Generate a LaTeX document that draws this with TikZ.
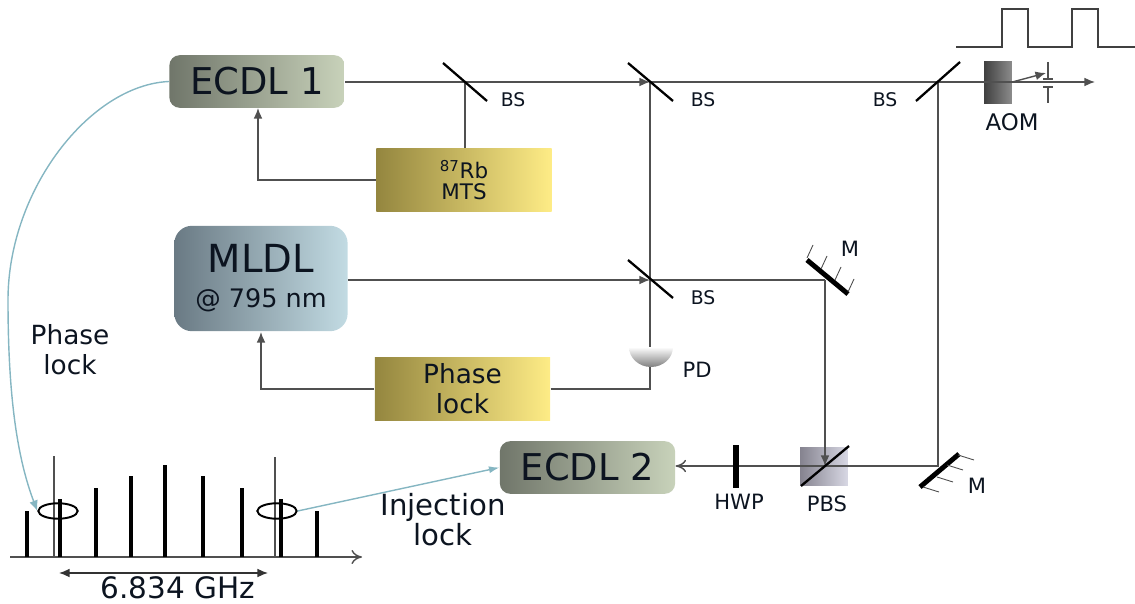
\documentclass[tikz,border=0pt]{standalone}
\usepackage{fontspec}
\setmainfont{DejaVu Sans}
\usepackage{xcolor}
\usetikzlibrary{shapes,arrows,positioning,calc,arrows.meta}
\definecolor{beamgray}{HTML}{505050}
\definecolor{locklink}{HTML}{85B6C2}
\definecolor{textdark}{HTML}{0C1420}
\definecolor{ecdlleft}{HTML}{70766A}
\definecolor{ecdlright}{HTML}{C8D2BA}
\definecolor{mldlleft}{HTML}{6A7A84}
\definecolor{mldlright}{HTML}{C2DBE3}
\definecolor{ctrlleft}{HTML}{94863F}
\definecolor{ctrlright}{HTML}{FEEC86}
\definecolor{pbsleft}{HTML}{85838F}
\definecolor{pbsright}{HTML}{D8D8E4}
\tikzset{
    laser/.style={rounded corners=6pt,inner sep=0pt,text=textdark},
    ecdl/.style={laser,minimum width=99.8pt,minimum height=30pt,left color=ecdlleft,right color=ecdlright,font=\fontsize{21}{23}\selectfont},
    ctrl/.style={inner sep=0pt,minimum width=99.8pt,minimum height=36pt,left color=ctrlleft,right color=ctrlright,text=textdark,align=center},
    lbl/.style={inner sep=0pt,text=textdark,font=\fontsize{10.7}{12}\selectfont},
    lblb/.style={inner sep=0pt,text=textdark,font=\fontsize{12}{14}\selectfont},
    bigl/.style={inner sep=0pt,text=textdark,align=center,font=\fontsize{15}{17}\selectfont},
    beam/.style={beamgray,line width=0.8pt},
    tip/.style={-{Latex[length=6pt,width=5pt]}},
    splitter/.style={black,line width=1.3pt},
    tooth/.style={black,line width=2.5pt},
    hatch/.style={black!70,line width=0.5pt},
    mirrorbar/.style={black,line width=2.8pt},
}
\begin{document}
\begin{tikzpicture}[x=0.02cm,y=-0.02cm]
    \useasboundingbox (0,0) rectangle (1135,604);
    % Lasers and control boxes
    \node[ecdl] (E1) at (257,81.5) {ECDL 1};
    \node[ecdl] (E2) at (587.5,467.5) {ECDL 2};
    \node[laser,minimum width=98.6pt,minimum height=60pt,left color=mldlleft,right color=mldlright,align=center,
        rounded corners=10pt,font=\fontsize{14.5}{20}\selectfont] (L) at (261,278.5)
        {\fontsize{22}{20}\selectfont MLDL\\@ 795 nm};
    \node[ctrl,font=\fontsize{12.2}{12}\selectfont] (MTS) at (464,180) {\textsuperscript{87}Rb\\MTS};
    \node[ctrl,minimum height=36.3pt,font=\fontsize{15}{17}\selectfont] (PL) at (462.5,389) {Phase\\lock};
    % Points on the beams
    \coordinate (BSa) at (465,82);
    \coordinate (BSb) at (650,82);
    \coordinate (BSc) at (938,82);
    \coordinate (BSd) at (650,280);
    \coordinate (Ma) at (825,280);
    \coordinate (Mb) at (938,466);
    \coordinate (PBSc) at (825,466);
    \coordinate (Out) at (1095,82);
    \coordinate (Defl) at (1046,73);
    % AOM, PBS and detector bodies
    \node[minimum width=15.9pt,minimum height=24.4pt,inner sep=0pt,left color=black!75,right color=black!45] (AOM) at (998,82.5) {};
    \node[minimum width=27.2pt,minimum height=22.1pt,inner sep=0pt,left color=pbsleft,right color=pbsright] (PBS) at (824,466.5) {};
    \shade[top color=white,bottom color=black!50] (629,347) arc[start angle=180,end angle=0,x radius=22,y radius=20] -- cycle;
    \coordinate (PDtop) at (650,347);
    \coordinate (PDbot) at (650,367);
    % Beams
    \draw[beam,tip] (E1.east |- BSa) -- (BSb);
    \draw[beam] (BSb) -- (BSc);
    \draw[beam,tip] (BSc) -- (Out);
    \draw[beam,tip] (AOM.east |- BSc) -- (Defl);
    \draw[beam] (BSb) -- (PDtop);
    \draw[beam,tip] (L.east |- BSd) -- (BSd);
    \draw[beam] (BSd) -- (Ma);
    \draw[beam] (BSc) -- (Mb) -- (PBSc);
    \draw[beam,->,>={To[length=6pt,width=7pt]}] (PBSc) -- (E2.east |- PBSc);
    \draw[beam,tip] (Ma) -- (PBSc);
    \draw[beam] (MTS.north -| BSa) -- (BSa);
    \draw[beam,tip] (MTS.west) -| (258,108);
    \draw[beam,tip] (PL.west) -| (261,332);
    \draw[beam] (PL.east) -| (PDbot);
    % Beam splitters
    \draw[splitter] ($(BSa)+(-22,-19)$) -- ($(BSa)+(22,19)$);
    \draw[splitter] ($(BSb)+(-22,-19)$) -- ($(BSb)+(23,19)$);
    \draw[splitter] ($(BSc)+(-22,19)$) -- ($(BSc)+(22,-20)$);
    \draw[splitter] ($(BSd)+(-22,-20)$) -- ($(BSd)+(23,18)$);
    \draw[splitter] ($(PBSc)+(-24,20)$) -- ($(PBSc)+(24,-20)$);
    % Half wave plate
    \draw[black,line width=3.4pt] (736,445) -- (736,488);
    % Mirrors
    \draw[mirrorbar] (807,260) -- (848,294);
    \foreach \x/\y in {807/258,821/269,835/280,848/292}
        \draw[hatch] (\x,\y) -- ++(6,-13);
    \draw[mirrorbar] (920,487) -- (959,454);
    \foreach \x/\y in {923/487,937/477,947/465,958/455}
        \draw[hatch] (\x,\y) -- ++(16,5);
    % Aperture after the AOM
    \draw[beamgray,line width=0.8pt] (1048,62) -- (1048,79) (1043,79) -- (1053,79);
    \draw[beamgray,line width=0.8pt] (1048,103) -- (1048,87) (1043,87) -- (1053,87);
    % Pulse train
    \draw[black!75,line width=0.8pt] (956,47) -- (1002,47) -- (1002,9) -- (1028,9) -- (1028,47) -- (1072,47) -- (1072,9) -- (1098,9) -- (1098,47) -- (1135,47);
    % Comb
    \draw[beamgray,line width=0.8pt,->,>={To[length=6pt,width=8pt]}] (10,557) -- (362,557);
    \foreach \x/\y in {27/511,60/499,96/488,131/476,165/465,203/476,242/488,281/499,317/511}
        \draw[tooth] (\x,557) -- (\x,\y);
    \draw[beamgray,line width=0.6pt] (54,456) -- (54,557);
    \draw[beamgray,line width=0.6pt] (275,457) -- (275,557);
    \node[ellipse,draw,black,line width=1.1pt,minimum width=22.4pt,minimum height=8.8pt,inner sep=0pt] (LockA) at (58,511) {};
    \node[ellipse,draw,black,line width=1.1pt,minimum width=22.4pt,minimum height=8.8pt,inner sep=0pt] (LockB) at (277,511) {};
    \coordinate (SpanL) at (59,573);
    \coordinate (SpanR) at (268,573);
    \draw[black!80,line width=0.8pt,{Latex[length=6pt,width=5pt]}-{Latex[length=6pt,width=5pt]}] (SpanL) -- (SpanR);
    % Lock links
    \draw[locklink,line width=0.8pt,tip] (E1.west) .. controls (90,85) and (8,190) .. (8,300) .. controls (8,400) and (18,460) .. (LockA.west);
    \draw[locklink,line width=0.8pt,-{Latex[length=6pt,width=4pt]}] (LockB.east) -- (E2.west);
    % Labels
    \node[lbl] (l1) at (513,100) {BS};
    \node[lbl] (l2) at (703,100) {BS};
    \node[lbl] (l3) at (885,100) {BS};
    \node[lbl] (l4) at (703,298) {BS};
    \node[lblb] (l5) at (850,249) {M};
    \node[lblb] (l6) at (697,370) {PD};
    \node[lblb,font=\fontsize{13}{15}\selectfont] (l7) at (1012,122) {AOM};
    \node[lblb] (l8) at (739,502) {HWP};
    \node[lblb] (l9) at (827,504) {PBS};
    \node[lblb] (l10) at (977,486) {M};
    \node[bigl] (l11) at (70,350) {Phase\\lock};
    \node[bigl,font=\fontsize{16.6}{17}\selectfont] (l12) at (443,520) {Injection\\lock};
    \node[bigl,font=\fontsize{16.8}{18}\selectfont] (l13) at (178,588) {6.834 GHz};
\end{tikzpicture}
\end{document}
